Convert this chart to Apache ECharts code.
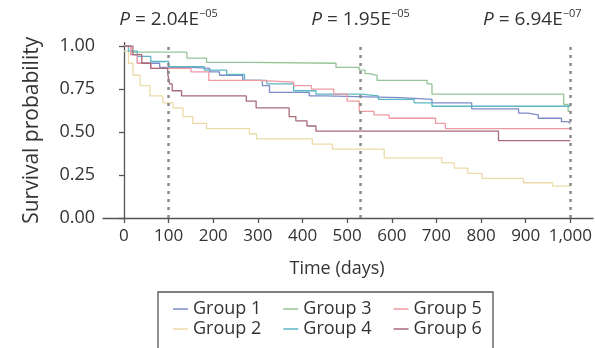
<!DOCTYPE html>
<html>
<head>
<meta charset="utf-8">
<script src="https://cdn.jsdelivr.net/npm/echarts@6/dist/echarts.min.js"></script>
<style>
  html, body { margin: 0; padding: 0; background: #fff; }
  #chart { width: 595px; height: 348px; }
</style>
</head>
<body>
<div id="chart"></div>
<script>
// Kaplan-Meier curves, [time (days), survival]
const group1 = [[0, 1], [15, 0.95], [30, 0.9], [80, 0.876], [154, 0.87], [192, 0.85], [214, 0.83], [266, 0.8], [310, 0.77], [326, 0.73], [415, 0.71], [450, 0.7], [620, 0.69], [690, 0.67], [779, 0.635], [884, 0.61], [905, 0.6], [928, 0.58], [980, 0.56], [995, 0.55], [1000, 0.55]];
const group2 = [[0, 0.97], [10, 0.9], [20, 0.83], [36, 0.77], [58, 0.71], [87, 0.67], [110, 0.64], [132, 0.59], [154, 0.55], [185, 0.52], [281, 0.49], [297, 0.46], [422, 0.43], [467, 0.4], [583, 0.35], [712, 0.32], [740, 0.29], [770, 0.26], [802, 0.23], [895, 0.205], [960, 0.185], [1000, 0.185]];
const group3 = [[0, 1], [15, 0.965], [141, 0.93], [185, 0.905], [281, 0.9], [475, 0.876], [527, 0.86], [540, 0.84], [549, 0.83], [567, 0.8], [679, 0.78], [690, 0.72], [985, 0.66], [995, 0.62], [1000, 0.62]];
const group4 = [[0, 1], [10, 0.97], [30, 0.94], [60, 0.91], [100, 0.88], [180, 0.86], [230, 0.835], [270, 0.8], [320, 0.78], [380, 0.74], [430, 0.72], [530, 0.71], [570, 0.69], [650, 0.67], [690, 0.65], [1000, 0.65]];
const group5 = [[0, 1], [15, 0.95], [30, 0.9], [60, 0.87], [150, 0.85], [190, 0.8], [300, 0.79], [380, 0.77], [420, 0.75], [470, 0.72], [500, 0.68], [527, 0.62], [560, 0.6], [594, 0.58], [698, 0.55], [720, 0.52], [1000, 0.52]];
const group6 = [[0, 1], [20, 0.95], [40, 0.9], [60, 0.87], [98, 0.84], [102, 0.78], [108, 0.74], [129, 0.71], [274, 0.68], [296, 0.64], [370, 0.59], [385, 0.565], [410, 0.535], [430, 0.505], [839, 0.45], [1000, 0.45]];

const groupNames = ['Group 1', 'Group 2', 'Group 3', 'Group 4', 'Group 5', 'Group 6'];
const groupColors = ['#7b8cc8', '#ecdba8', '#95c495', '#5cb6c4', '#ef9aa2', '#a86a78'];

// log-rank tests at three time points
const testDays = [100, 530, 1000];
const testP = ['2.04', '1.95', '6.94'];
const testExp = ['\u221205', '\u221205', '\u221207'];

const xTicks = [0, 100, 200, 300, 400, 500, 600, 700, 800, 900, 1000];
const yTicks = [0, 0.25, 0.5, 0.75, 1];

const font = '"Open Sans", sans-serif';
const textCol = '#333';
const axisCol = '#555';

var myChart = echarts.init(document.getElementById('chart'));

var series = [group1, group2, group3, group4, group5, group6].map(function (d, i) {
    return {
        name: groupNames[i],
        type: 'line',
        step: 'end',
        data: d,
        symbol: 'none',
        color: groupColors[i],
        lineStyle: { width: 1.3 },
        z: 3
    };
});

// dashed lines for the tests, with their p values on top
series[0].markLine = {
    silent: true,
    symbol: 'none',
    animation: false,
    lineStyle: { color: '#8a8a8a', type: [3, 5], width: 2.5 },
    data: testDays.map(function (t, i) {
        return {
            xAxis: t,
            label: {
                show: true,
                position: 'end',
                distance: 13,
                offset: i === 2 ? [-38, 0] : [0, 0],
                formatter: '{i|P} = ' + testP[i] + 'E{s|' + testExp[i] + '}',
                color: textCol,
                fontFamily: font,
                fontSize: 19,
                rich: {
                    i: { fontStyle: 'italic', fontSize: 19, fontFamily: font, color: textCol },
                    s: { fontSize: 11, fontFamily: font, color: textCol, verticalAlign: 'top', padding: [0, 0, 10, 0] }
                }
            }
        };
    })
};

option = {
    animation: false,
    grid: { left: 103, right: 0, top: 42.6, bottom: 130 },
    xAxis: {
        type: 'value',
        min: -47,
        max: 1051,
        name: 'Time (days)',
        nameLocation: 'middle',
        nameGap: 42,
        nameTextStyle: { fontFamily: font, fontSize: 18, color: textCol, padding: [0, 22, 0, 0] },
        splitLine: { show: false },
        axisLine: { lineStyle: { color: axisCol, width: 1.3 } },
        axisTick: { customValues: xTicks, length: 5, lineStyle: { color: axisCol, width: 1.3 } },
        axisLabel: {
            customValues: xTicks,
            margin: 10,
            fontFamily: font,
            fontSize: 17,
            color: textCol,
            formatter: function (v) { return v >= 1000 ? '1,000' : String(v); }
        }
    },
    yAxis: {
        type: 'value',
        min: 0,
        max: 1.02,
        name: 'Survival probability',
        nameLocation: 'middle',
        nameGap: 60,
        nameTextStyle: { fontFamily: font, fontSize: 21, color: textCol },
        splitLine: { show: false },
        axisLine: { show: true, lineStyle: { color: axisCol, width: 1.3 } },
        axisTick: { show: true, customValues: yTicks, length: 5, lineStyle: { color: axisCol, width: 1.3 } },
        axisLabel: {
            customValues: yTicks,
            margin: 8,
            fontFamily: font,
            fontSize: 18,
            color: textCol,
            formatter: function (v) { return v.toFixed(2); }
        }
    },
    legend: [{
        data: ['Group 1', 'Group 3', 'Group 5'],
        left: 168,
        top: 295,
        icon: 'rect',
        itemWidth: 15,
        itemHeight: 1.5,
        itemGap: 22,
        textStyle: { fontFamily: font, fontSize: 18, color: textCol },
        selectedMode: false
    }, {
        data: ['Group 2', 'Group 4', 'Group 6'],
        left: 168,
        top: 315,
        icon: 'rect',
        itemWidth: 15,
        itemHeight: 1.5,
        itemGap: 22,
        textStyle: { fontFamily: font, fontSize: 18, color: textCol },
        selectedMode: false
    }],
    graphic: [{
        type: 'rect',
        shape: { x: 158, y: 292, width: 335, height: 70 },
        style: { fill: 'none', stroke: axisCol, lineWidth: 1.3 },
        silent: true
    }],
    series: series
};

myChart.setOption(option);
</script>
</body>
</html>
